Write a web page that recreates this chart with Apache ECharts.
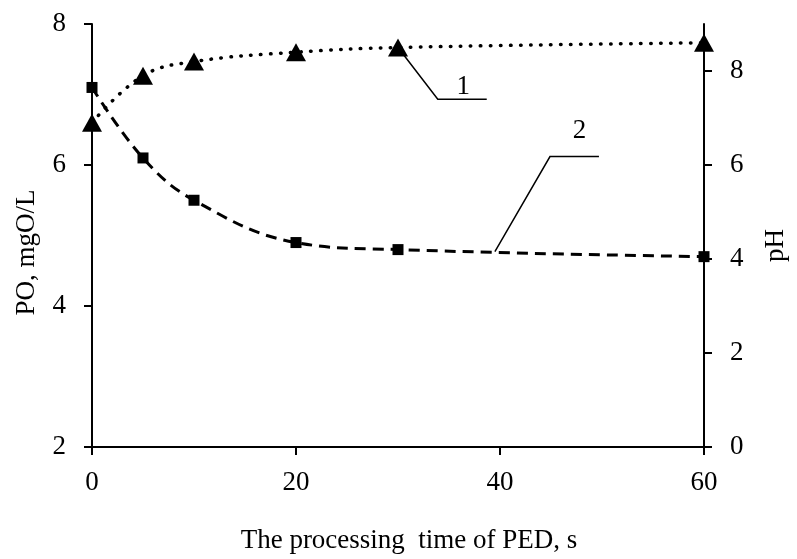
<!DOCTYPE html>
<html>
<head>
<meta charset="utf-8">
<script src="https://cdn.jsdelivr.net/npm/echarts@6/dist/echarts.min.js"></script>
<style>
html,body{margin:0;padding:0;background:#fff;}
#c{width:797px;height:559px;}
</style>
</head>
<body>
<div id="c"></div>
<script>
// Data
var time = [0, 5, 10, 20, 30, 60];
var pH = [6.9, 7.9, 8.2, 8.4, 8.5, 8.6];       // curve 1, right axis
var po = [7.1, 6.1, 5.5, 4.9, 4.8, 4.7];       // curve 2, left axis
var rightTicks = [0, 2, 4, 6, 8];
// annotation leaders (data units)
var leader1 = [[30, 8.5], [33.9, 7.4], [38.7, 7.4]];
var label1 = [36.4, 7.66];
var leader2 = [[39.5, 4.77], [44.9, 6.12], [49.7, 6.12]];
var label2 = [47.8, 6.48];

var FONT = 'Liberation Serif';
var FS = 27;
var chart = echarts.init(document.getElementById('c'));

function pairs(xs, ys) { return xs.map(function (x, i) { return [x, ys[i]]; }); }

var axisLine = { show: true, lineStyle: { color: '#000', width: 2 } };
var axisTick = { show: true, length: 8, lineStyle: { color: '#000', width: 2 } };
var labelStyle = { color: '#000', fontFamily: FONT, fontSize: FS };
var nameStyle = { color: '#000', fontFamily: FONT, fontSize: FS };

chart.setOption({
  animation: false,
  backgroundColor: '#fff',
  grid: { left: 92, right: 86, top: 24, bottom: 104 },
  xAxis: {
    type: 'value', min: 0, max: 60, interval: 20,
    name: 'The processing  time of PED, s', nameLocation: 'middle', nameGap: 80,
    axisLine: axisLine, axisTick: axisTick, splitLine: { show: false },
    axisLabel: Object.assign({}, labelStyle, { margin: 22 }),
    nameTextStyle: Object.assign({}, nameStyle, { padding: [0, 0, 0, 22] })
  },
  yAxis: [
    {
      type: 'value', min: 2, max: 8, interval: 2, position: 'left',
      name: 'PO, mgO/L', nameLocation: 'middle', nameGap: 52, nameRotate: 90,
      axisLine: axisLine, axisTick: axisTick, splitLine: { show: false },
      axisLabel: Object.assign({}, labelStyle, { margin: 26 }),
      nameTextStyle: Object.assign({}, nameStyle, { padding: [0, 34, 0, 0] })
    },
    {
      type: 'value', min: 0, max: 9, interval: 2, position: 'right',
      name: 'pH', nameLocation: 'middle', nameGap: 58, nameRotate: 90,
      axisLine: axisLine,
      axisTick: Object.assign({}, axisTick, { customValues: rightTicks }),
      splitLine: { show: false },
      axisLabel: Object.assign({}, labelStyle, { margin: 26, customValues: rightTicks }),
      nameTextStyle: Object.assign({}, nameStyle, { padding: [0, 20, 0, 0] })
    }
  ],
  series: [
    {
      name: '1', type: 'line', yAxisIndex: 1, data: pairs(time, pH),
      smooth: 0.4, clip: false,
      symbol: 'triangle', symbolSize: [20, 18],
      itemStyle: { color: '#000' },
      lineStyle: { color: '#000', width: 3.5, type: [0.5, 9.5], cap: 'round' },
      z: 3
    },
    {
      name: '2', type: 'line', yAxisIndex: 0, data: pairs(time, po),
      smooth: 0.4, clip: false,
      symbol: 'rect', symbolSize: 11,
      itemStyle: { color: '#000' },
      lineStyle: { color: '#000', width: 3, type: [11, 7] },
      z: 2
    }
  ]
});

function px(seriesIndex, pt) { return chart.convertToPixel({ seriesIndex: seriesIndex }, pt); }
var leaderStyle = { stroke: '#000', lineWidth: 1.5, fill: null };
var l1 = leader1.map(function (p) { return px(0, p); });
var l2 = leader2.map(function (p) { return px(1, p); });
var t1 = px(0, label1), t2 = px(1, label2);
var labelFont = FS + 'px "Liberation Serif"';
chart.setOption({
  graphic: [
    { type: 'polyline', shape: { points: l1 }, style: leaderStyle, z: 10 },
    { type: 'polyline', shape: { points: l2 }, style: leaderStyle, z: 10 },
    { type: 'text', x: t1[0], y: t1[1], style: { text: '1', fill: '#000', font: labelFont, align: 'center', verticalAlign: 'middle' }, z: 10 },
    { type: 'text', x: t2[0], y: t2[1], style: { text: '2', fill: '#000', font: labelFont, align: 'center', verticalAlign: 'middle' }, z: 10 }
  ]
});
</script>
</body>
</html>
